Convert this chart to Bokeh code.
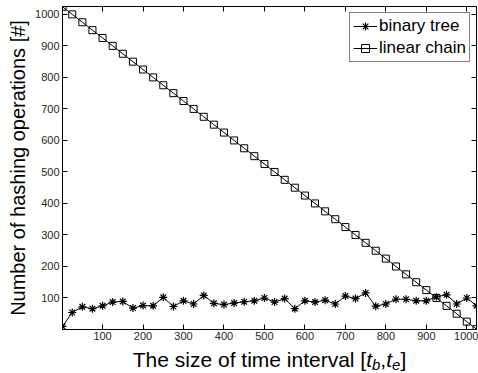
from bokeh.plotting import figure
from bokeh.layouts import column
from bokeh.models import Range1d, FixedTicker, LinearAxis, Legend, LegendItem, ColumnDataSource
from bokeh.embed import file_html
from bokeh.resources import INLINE

# ---- data ----
interval_size = [1, 25, 50, 75, 100, 125, 150, 175, 200, 225, 250, 275, 300, 325,
                 350, 375, 400, 425, 450, 475, 500, 525, 550, 575, 600, 625, 650,
                 675, 700, 725, 750, 775, 800, 825, 850, 875, 900, 925, 950, 975,
                 1000, 1024]
binary_tree = [10, 54, 72, 66, 75, 87, 89, 68, 76, 75, 102, 73, 91, 81, 108, 83,
               79, 84, 88, 91, 100, 87, 98, 66, 91, 87, 93, 81, 106, 98, 116, 74,
               81, 96, 96, 91, 91, 104, 110, 81, 100, 75]
linear_chain = [1024, 1000, 975, 950, 925, 900, 875, 850, 825, 800, 775, 750, 725,
                700, 675, 650, 625, 600, 575, 550, 525, 500, 475, 450, 425, 400,
                375, 350, 325, 300, 275, 250, 225, 200, 175, 150, 125, 100, 75, 50,
                25, 1]
x_ticks = [100, 200, 300, 400, 500, 600, 700, 800, 900, 1000]
y_ticks = [100, 200, 300, 400, 500, 600, 700, 800, 900, 1000]
series_names = ["binary tree", "linear chain"]
x_label_parts = ["The size of time interval [", "t", "b", ",", "t", "e", "]"]
y_label = "Number of hashing operations [#]"

FONT = "Liberation Sans"
W = 478
LEFT, RIGHT = 62, 2

p = figure(width=W, height=344, output_backend="svg", toolbar_location=None,
           x_range=Range1d(1, 1024), y_range=Range1d(0, 1025),
           min_border_left=LEFT, min_border_right=RIGHT, min_border_top=6,
           min_border_bottom=15)
p.grid.visible = False
p.outline_line_color = "black"
p.background_fill_color = "white"
p.border_fill_color = "white"

p.xaxis.ticker = FixedTicker(ticks=x_ticks)
p.yaxis.ticker = FixedTicker(ticks=y_ticks)
for ax in p.xaxis + p.yaxis:
    ax.axis_line_color = "black"
    ax.major_tick_in = 5
    ax.major_tick_out = 0
    ax.major_tick_line_color = "black"
    ax.minor_tick_line_color = None
    ax.major_label_text_font = FONT
    ax.major_label_text_font_size = "11px"
    ax.major_label_text_color = "#262626"
    ax.major_label_standoff = 3
p.xaxis.major_label_standoff = 2

p.yaxis.axis_label = y_label
p.yaxis.axis_label_text_font = FONT
p.yaxis.axis_label_text_font_size = "20px"
p.yaxis.axis_label_text_font_style = "normal"
p.yaxis.axis_label_text_color = "black"
p.yaxis.axis_label_standoff = 3

top_ax = LinearAxis(ticker=FixedTicker(ticks=x_ticks))
right_ax = LinearAxis(ticker=FixedTicker(ticks=y_ticks))
for ax in (top_ax, right_ax):
    ax.axis_line_color = "black"
    ax.major_tick_in = 5
    ax.major_tick_out = 0
    ax.major_tick_line_color = "black"
    ax.minor_tick_line_color = None
    ax.major_label_text_font_size = "0px"
    ax.major_label_standoff = 0
    ax.major_label_text_color = None
p.add_layout(top_ax, "above")
p.add_layout(right_ax, "right")

# ---- series ----
l1 = p.line(interval_size, binary_tree, line_color="black", line_width=1)
m1 = p.scatter(interval_size, binary_tree, marker="asterisk", size=8,
               line_color="black", line_width=1.2)
l2 = p.line(interval_size, linear_chain, line_color="black", line_width=1)
m2 = p.scatter(interval_size, linear_chain, marker="square", size=7,
               line_color="black", fill_color=None, line_width=1)

legend = Legend(items=[LegendItem(label=series_names[0], renderers=[l1, m1]),
                       LegendItem(label=series_names[1], renderers=[l2, m2])],
                location="top_right")
legend.border_line_color = "black"
legend.border_line_width = 1
legend.background_fill_color = "white"
legend.background_fill_alpha = 1
legend.label_text_font = FONT
legend.label_text_font_size = "17px"
legend.label_text_color = "black"
legend.glyph_width = 24
legend.glyph_height = 20
legend.label_height = 20
legend.label_standoff = 2
legend.padding = 3
legend.spacing = 2
legend.margin = 6
p.add_layout(legend)

# ---- x axis label strip (text with italic t and subscripts) ----
QH = 29
q = figure(width=W, height=QH, output_backend="svg", toolbar_location=None,
           x_axis_type=None, y_axis_type=None,
           x_range=Range1d(LEFT, W - RIGHT), y_range=Range1d(0, QH),
           min_border_left=LEFT, min_border_right=RIGHT, min_border_top=0,
           min_border_bottom=0)
q.grid.visible = False
q.outline_line_color = None
q.background_fill_color = "white"
q.border_fill_color = "white"

big, small = 21, 15
sizes = [big, big, small, big, big, small, big]
styles = ["normal", "italic", "italic", "normal", "italic", "italic", "normal"]
em = [11115, 278, 556, 278, 278, 556, 278]          # Arial advance widths (1/1000 em)
widths = [e * s / 1000.0 for e, s in zip(em, sizes)]
center = LEFT + (W - RIGHT - LEFT) / 2.0
start = center - sum(widths) / 2.0
xs = []
acc = start
for wd in widths:
    xs.append(acc)
    acc += wd
ys = [14, 14, 9, 14, 14, 9, 14]
src = ColumnDataSource(dict(x=xs, y=ys, text=x_label_parts,
                            size=[f"{s}px" for s in sizes], style=styles))
q.text(x="x", y="y", text="text", source=src, text_font_size="size",
       text_font_style="style", text_align="left", text_baseline="alphabetic",
       text_font={"value": FONT}, text_color="black")

layout = column(p, q, spacing=0)
open("out.html", "w").write(file_html(layout, INLINE))
